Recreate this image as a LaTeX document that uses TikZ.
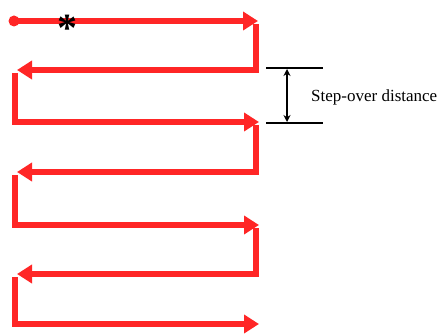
\documentclass[tikz,border=0pt]{standalone}
\usepackage{fontspec}
\setmainfont{Liberation Serif}
\usetikzlibrary{arrows.meta}
\definecolor{pathred}{RGB}{255,38,38}

\begin{document}
\begin{tikzpicture}[x=1pt, y=-1pt,
  pass/.style={draw=pathred, line width=5.5pt, -{Triangle[length=15pt,width=18pt]}},
  dimline/.style={draw=black, line width=1.8pt},
  dimarrow/.style={draw=black, line width=1.6pt, {Stealth[length=7pt,width=7pt]}-{Stealth[length=7pt,width=7pt]}}]
  \useasboundingbox (0,0) rectangle (441,336);
  % pass ends
  \coordinate (p0) at (14,21);
  \coordinate (p1) at (258,21);
  \coordinate (t1) at (256,24);
  \coordinate (p2) at (17,70);
  \coordinate (t2) at (15,73);
  \coordinate (p3) at (259,122);
  \coordinate (t3) at (256,125);
  \coordinate (p4) at (17,172);
  \coordinate (t4) at (15,175);
  \coordinate (p5) at (259,225);
  \coordinate (t5) at (256,228);
  \coordinate (p6) at (17,274);
  \coordinate (t6) at (15,277);
  \coordinate (p7) at (259,324);
  % tool path
  \fill[pathred] (p0) circle (5.5pt);
  \draw[pass] (p0) -- (p1);
  \draw[pass] (t1) |- (p2);
  \draw[pass] (t2) |- (p3);
  \draw[pass] (t3) |- (p4);
  \draw[pass] (t4) |- (p5);
  \draw[pass] (t5) |- (p6);
  \draw[pass] (t6) |- (p7);
  \node (start) at (67,28) {\fontsize{40}{40}\selectfont\bfseries *};
  % step-over
  \coordinate (d1) at (266,68);
  \coordinate (d2) at (323,68);
  \coordinate (d3) at (266,123);
  \coordinate (d4) at (323,123);
  \coordinate (a1) at (287,69);
  \coordinate (a2) at (287,122);
  \draw[dimline] (d1) -- (d2);
  \draw[dimline] (d3) -- (d4);
  \draw[dimarrow] (a1) -- (a2);
  \node (label) [anchor=west, inner sep=0pt] at (311,97) {\fontsize{17}{19}\selectfont Step-over distance};
\end{tikzpicture}
\end{document}
